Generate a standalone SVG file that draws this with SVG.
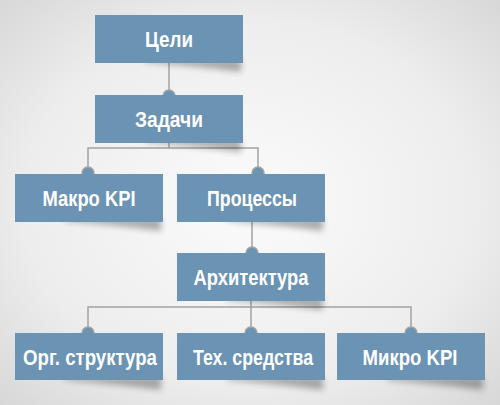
<svg xmlns="http://www.w3.org/2000/svg" width="500" height="405" viewBox="0 0 500 405">
<defs>
<radialGradient id="bg" cx="0.5" cy="0.5" r="0.75">
<stop offset="0" stop-color="#fbfbfb"/>
<stop offset="0.6" stop-color="#ededed"/>
<stop offset="1" stop-color="#d4d4d4"/>
</radialGradient>
<filter id="blur" x="-20%" y="-50%" width="140%" height="200%"><feGaussianBlur stdDeviation="3"/></filter>
<path id="sh" d="M50,44 L146,44 L146,57 Q100,51 50,47 Z"/>
</defs>
<style>
.box{fill:#6a93b4}
.shadow{fill:#000;opacity:0.3;filter:url(#blur)}
.lbl{font-family:"Liberation Sans",Arial,sans-serif;font-weight:bold;font-size:22px;fill:#fff;text-anchor:middle}
.con{stroke:#a3a3a3;stroke-width:1.5;fill:none}
.dot{fill:#6a93b4;stroke:#a3a3a3;stroke-width:1.5}
</style>
<rect width="500" height="405" fill="url(#bg)"/>
<g id="connectors">
<path class="con" d="M169,63 V95"/>
<path class="con" d="M169,143 V148 M88,173 V148 H258 V173"/>
<path class="con" d="M252,222 V253"/>
<path class="con" d="M251,301 V307 M88,333 V307 H411 V333 M251,307 V333"/>
<circle class="dot" cx="169" cy="96" r="6"/>
<circle class="dot" cx="88" cy="173" r="6"/>
<circle class="dot" cx="258" cy="173" r="6"/>
<circle class="dot" cx="252" cy="253" r="6"/>
<circle class="dot" cx="88" cy="333" r="6"/>
<circle class="dot" cx="251" cy="333" r="6"/>
<circle class="dot" cx="411" cy="333" r="6"/>
</g>
<g id="n1"><use href="#sh" class="shadow" transform="translate(95,15)"/><rect class="box" x="95" y="15" width="148" height="48"/><text class="lbl" x="169" y="47" textLength="48" lengthAdjust="spacingAndGlyphs">Цели</text></g>
<g id="n2"><use href="#sh" class="shadow" transform="translate(95,95)"/><rect class="box" x="95" y="95" width="148" height="48"/><text class="lbl" x="169" y="127" textLength="68" lengthAdjust="spacingAndGlyphs">Задачи</text></g>
<g id="n3"><use href="#sh" class="shadow" transform="translate(15,174)"/><rect class="box" x="15" y="174" width="148" height="48"/><text class="lbl" x="89" y="206" textLength="93" lengthAdjust="spacingAndGlyphs">Макро KPI</text></g>
<g id="n4"><use href="#sh" class="shadow" transform="translate(177,174)"/><rect class="box" x="177" y="174" width="148" height="48"/><text class="lbl" x="252" y="206" textLength="90" lengthAdjust="spacingAndGlyphs">Процессы</text></g>
<g id="n5"><use href="#sh" class="shadow" transform="translate(177,253)"/><rect class="box" x="177" y="253" width="148" height="48"/><text class="lbl" x="251" y="285" textLength="115" lengthAdjust="spacingAndGlyphs">Архитектура</text></g>
<g id="n6"><use href="#sh" class="shadow" transform="translate(15,333)"/><rect class="box" x="15" y="333" width="148" height="47"/><text class="lbl" x="90" y="365" textLength="134" lengthAdjust="spacingAndGlyphs">Орг. структура</text></g>
<g id="n7"><use href="#sh" class="shadow" transform="translate(177,333)"/><rect class="box" x="177" y="333" width="148" height="47"/><text class="lbl" x="253" y="365" textLength="120" lengthAdjust="spacingAndGlyphs">Тех. средства</text></g>
<g id="n8"><use href="#sh" class="shadow" transform="translate(337,333)"/><rect class="box" x="337" y="333" width="148" height="47"/><text class="lbl" x="410" y="365" textLength="95" lengthAdjust="spacingAndGlyphs">Микро KPI</text></g>
</svg>
